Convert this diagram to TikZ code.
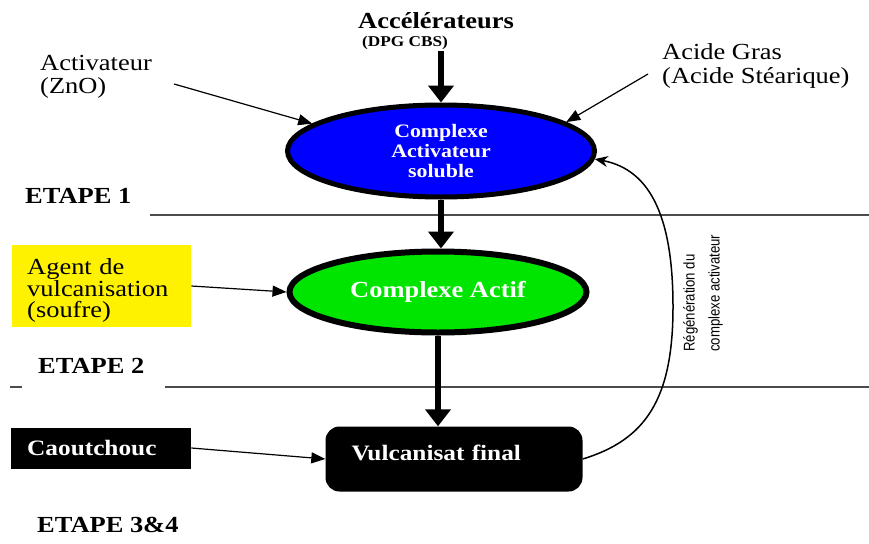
\documentclass[tikz,border=0pt]{standalone}
\usepackage{fontspec}
\setmainfont[FakeStretch=1.15]{Liberation Serif}
\newfontfamily\narrowfont[FakeStretch=0.85]{Liberation Sans}
\usetikzlibrary{arrows.meta,shapes.geometric,positioning}
\tikzset{
	etape/.style={
		anchor=west,
		inner sep=0pt,
		font=\bfseries\fontsize{23}{24}\selectfont},
	entree/.style={
		anchor=west,
		align=left,
		inner sep=4pt,
		font=\fontsize{23}{23.5}\selectfont},
	ovale/.style={
		ellipse,
		draw=black, line width=5pt,
		inner sep=0pt,
		text=white,
		align=center},
	boite/.style={
		rectangle,
		fill=black,
		text=white,
		align=left,
		font=\bfseries\fontsize{22}{24}\selectfont},
	grosse/.style={line width=6pt, -{Triangle[length=17pt,width=25pt]}},
	fine/.style={line width=1.2pt, -{Triangle[length=14pt,width=11pt]}},
	retour/.style={line width=1.5pt, -{Stealth[length=13pt,width=11pt]}},
	separ/.style={line width=1.5pt, draw=black!70},
}
\begin{document}
\begin{tikzpicture}[x=1pt, y=-1pt]
	\useasboundingbox[fill=white] (0,0) rectangle (869,543);
	% entrees
	\node[font=\bfseries\fontsize{23}{24}\selectfont] (acc) at (436,21) {Accélérateurs};
	\node[font=\bfseries\fontsize{15}{16}\selectfont, inner sep=1pt] (dpg) at (405,43) {(DPG CBS)};
	\node[entree] (act) at (36,77) {Activateur\\(ZnO)};
	\node[entree] (acide) at (658,66) {Acide Gras\\(Acide Stéarique)};
	\node[entree, fill=yellow, inner xsep=15pt, text width=149pt,
		minimum height=82pt, text depth=38pt, font=\fontsize{23}{21.5}\selectfont] (agent) at (12,286)
		{Agent de\\vulcanisation\\(soufre)};
	\node[boite, anchor=west, inner xsep=16pt, text width=148pt, minimum height=41pt] (caou) at (11,448) {Caoutchouc};
	% complexes
	\node[ovale, fill=blue, minimum width=307pt, minimum height=92pt,
		font=\bfseries\fontsize{19}{20}\selectfont] (cas) at (441,151) {Complexe\\Activateur\\soluble};
	\node[ovale, fill=green!90!black, line width=6pt, minimum width=297pt, minimum height=81pt,
		font=\bfseries\fontsize{23}{24}\selectfont] (cact) at (438,292) {Complexe Actif};
	\node[boite, rounded corners=14pt, inner xsep=26pt, text width=205pt, minimum height=65pt,
		text height=14pt, text depth=12pt] (vf) at (454,459) {Vulcanisat final};
	% etapes
	\node[etape] (e1) at (25,196) {ETAPE 1};
	\node[etape] (e2) at (38,366) {ETAPE 2};
	\node[etape] (e3) at (37,525) {ETAPE 3\&4};
	\draw[separ] (150,215) -- (869,215);
	\draw[separ] (10,387) -- (22,387);
	\draw[separ] (165,387) -- (869,387);
	% fleches
	\draw[grosse] (cas.north |- dpg.south) -- (cas.north);
	\draw[grosse] (cas.south) -- (cas.south |- cact.north);
	\draw[grosse] (cact.south) -- (cact.south |- vf.north);
	\draw[fine] ([xshift=18pt,yshift=-7pt]act.east) -- (cas.168);
	\draw[fine] ([xshift=-10pt,yshift=-8pt]acide.west) -- (cas.13);
	\draw[fine] (agent.east) -- (cact.west);
	\draw[fine] (caou.east) -- (vf.west);
	% regeneration
	\coordinate (retourpt) at (673,307);
	\draw[retour] (vf.east) .. controls (645,440) and (673,400) .. (retourpt)
		.. controls (673,220) and (652,170) .. (cas.-3);
	\node[rotate=90, anchor=west, align=left, inner sep=0pt,
		font=\narrowfont\fontsize{15.5}{25}\selectfont] (regtxt) at (703,352)
		{Régénération du\\complexe activateur};
\end{tikzpicture}
\end{document}
